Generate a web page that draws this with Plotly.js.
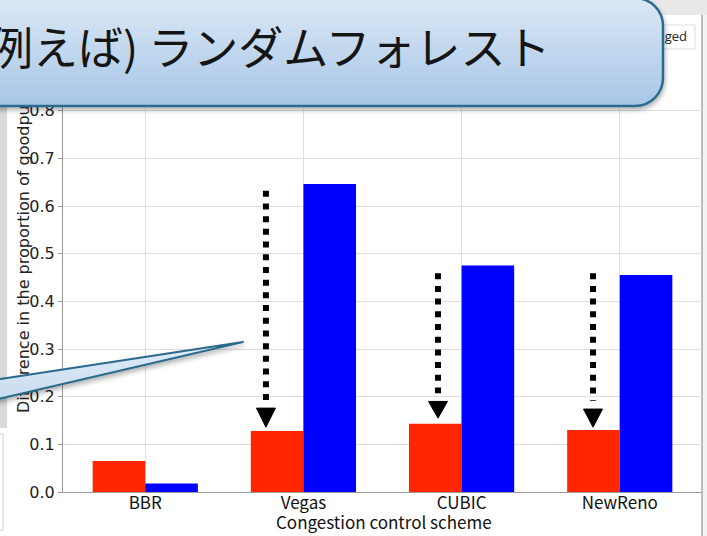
<!DOCTYPE html>
<html>
<head>
<meta charset="utf-8">
<script src="https://cdn.plot.ly/plotly-3.0.1.min.js"></script>
<style>html,body{margin:0;padding:0;background:#fff;}#chart{width:707px;height:536px;}</style>
</head>
<body>
<div id="chart"></div>
<script>
// ---- data ----
const categories = ['BBR', 'Vegas', 'CUBIC', 'NewReno'];
const seriesNames = ['Default', 'Changed'];
const redValues = [0.065, 0.128, 0.143, 0.130];
const blueValues = [0.018, 0.646, 0.475, 0.455];
const yTitle = 'Difference in the proportion of goodput';
const xTitle = 'Congestion control scheme';
const calloutText = '例えば) ランダムフォレスト';
// dotted arrows: category position, top of dots, arrowhead base, arrow tip (data units)
const arrowX = [0.763, 1.851, 2.831];
const arrowTop = [0.632, 0.459, 0.459];
const arrowBase = [0.176, 0.190, 0.174];
const arrowTip = [0.136, 0.155, 0.136];

// ---- layout geometry ----
const W = 707, H = 536, ML = 63, MR = 5, MT = 63, MB = 44;
const PW = W - ML - MR, PH = H - MT - MB;
const px = x => (x - ML) / PW;          // page px -> paper x
const py = y => (H - MB - y) / PH;      // page px -> paper y

// callout box + tail as a decorative svg image (page pixel coordinates)
const svg = `<svg xmlns='http://www.w3.org/2000/svg' width='${W}' height='${H}' viewBox='0 0 ${W} ${H}'>
<defs>
<linearGradient id='g' x1='0' y1='0' x2='0' y2='1'><stop offset='0' stop-color='#dbe8f5'/><stop offset='1' stop-color='#a7c6e7'/></linearGradient>
<linearGradient id='t' x1='0' y1='0' x2='0' y2='1'><stop offset='0' stop-color='#e2edf8'/><stop offset='1' stop-color='#c9dcf0'/></linearGradient>
<filter id='s' x='-20%' y='-20%' width='140%' height='160%'><feGaussianBlur in='SourceAlpha' stdDeviation='2.5'/><feOffset dx='1' dy='3' result='o'/><feComponentTransfer><feFuncA type='linear' slope='0.3'/></feComponentTransfer><feMerge><feMergeNode/><feMergeNode in='SourceGraphic'/></feMerge></filter>
</defs>
<path d='M -6 380 L 243 342 L -6 400 Z' fill='url(#t)' stroke='#2c6a8d' stroke-width='2' stroke-linejoin='round' filter='url(#s)'/>
<rect x='-40' y='-2' width='703' height='108' rx='28' ry='28' fill='url(#g)' stroke='#2c6a8d' stroke-width='2.5' filter='url(#s)'/>
</svg>`;
const svgUri = 'data:image/svg+xml;charset=utf-8,' + encodeURIComponent(svg);

const traces = [
  {type: 'bar', name: seriesNames[0], x: categories, y: redValues,
   marker: {color: '#ff2600', line: {width: 0}}, showlegend: false, hoverinfo: 'x+y'},
  {type: 'bar', name: seriesNames[1], x: categories, y: blueValues,
   marker: {color: '#0000ff', line: {width: 0}}, showlegend: false, hoverinfo: 'x+y'}
];

const shapes = [
  // page chrome
  {type: 'rect', xref: 'paper', yref: 'paper', x0: px(-5), x1: px(W + 5), y0: py(15), y1: py(-5),
   fillcolor: '#e8e8e8', line: {width: 0}, layer: 'below'},
  {type: 'rect', xref: 'paper', yref: 'paper', x0: px(702), x1: px(W + 5), y0: py(H + 5), y1: py(15),
   fillcolor: '#f3f3f3', line: {width: 0}, layer: 'below'},
  {type: 'line', xref: 'paper', yref: 'paper', x0: px(702), x1: px(702), y0: py(H + 5), y1: py(15),
   line: {color: '#a8a8a8', width: 1.5}, layer: 'below'},
  {type: 'rect', xref: 'paper', yref: 'paper', x0: px(-5), x1: px(7), y0: py(428), y1: py(100),
   fillcolor: '#d9d9d9', line: {width: 0}, layer: 'below'},
  {type: 'rect', xref: 'paper', yref: 'paper', x0: px(-10), x1: px(3), y0: py(530), y1: py(434),
   fillcolor: '#ffffff', line: {color: '#d0d0d0', width: 1}, layer: 'below'},
  // legend box (mostly hidden under the callout)
  {type: 'rect', xref: 'paper', yref: 'paper', x0: px(560), x1: px(695), y0: py(49), y1: py(25),
   fillcolor: '#ffffff', line: {color: '#dddddd', width: 1}, layer: 'below',
   label: {text: seriesNames[1], textposition: 'middle right', padding: 5,
           font: {family: 'Open Sans, DejaVu Sans, sans-serif', size: 13, color: '#222'}}},
  // y-axis title (kept under the callout)
  {type: 'rect', xref: 'paper', yref: 'paper', x0: px(21.5), x1: px(22.5), y0: py(413.5), y1: py(412.5),
   line: {width: 0}, fillcolor: 'rgba(0,0,0,0)', layer: 'below',
   label: {text: yTitle, textangle: -90, textposition: 'middle center', xanchor: 'left', yanchor: 'middle',
           padding: 0, font: {family: 'DejaVu Sans, sans-serif', size: 16, color: '#222'}}}
];

arrowX.forEach((x, i) => {
  shapes.push({type: 'line', xref: 'x', yref: 'y', x0: x, x1: x, y0: arrowTop[i], y1: arrowBase[i] + 0.017,
    line: {color: '#000', width: 6, dash: '6px,6.7px'}, layer: 'above'});
  shapes.push({type: 'path', xref: 'x', yref: 'y',
    path: `M ${x - 0.06},${arrowBase[i]} L ${x + 0.06},${arrowBase[i]} L ${x},${arrowTip[i]} Z`,
    fillcolor: '#000', line: {color: '#000', width: 1}, layer: 'above'});
});

const layout = {
  width: W, height: H,
  margin: {l: ML, r: MR, t: MT, b: MB, pad: 0},
  paper_bgcolor: '#ffffff', plot_bgcolor: '#ffffff',
  barmode: 'group', bargap: 0.335, bargroupgap: 0,
  showlegend: false,
  xaxis: {
    type: 'category', range: [-0.52, 3.52], fixedrange: true,
    showgrid: true, gridcolor: '#dedede', gridwidth: 1,
    showline: true, linecolor: '#9a9a9a', linewidth: 1, ticks: '',
    ticklabelstandoff: -4,
    tickfont: {family: 'Noto Sans CJK JP, sans-serif', size: 17, color: '#111'},
    automargin: false
  },
  yaxis: {
    range: [0, 0.9], dtick: 0.1, tickformat: '.1f', fixedrange: true,
    showgrid: true, gridcolor: '#dedede', gridwidth: 1, zeroline: false,
    showline: true, linecolor: '#9a9a9a', linewidth: 1,
    ticks: 'outside', ticklen: 4, tickcolor: '#9a9a9a',
    tickfont: {family: 'DejaVu Sans, sans-serif', size: 16, color: '#222'},
    automargin: false
  },
  images: [{
    source: svgUri, xref: 'paper', yref: 'paper',
    x: px(0), y: py(0), sizex: W / PW, sizey: H / PH,
    xanchor: 'left', yanchor: 'top', sizing: 'stretch', layer: 'above'
  }],
  shapes: shapes,
  annotations: [
    {text: xTitle, xref: 'paper', yref: 'paper', x: px(384), y: py(521),
     xanchor: 'center', yanchor: 'middle', showarrow: false,
     font: {family: 'Noto Sans CJK JP, sans-serif', size: 17, color: '#111'}},
    {text: calloutText, xref: 'paper', yref: 'paper', x: px(553), y: py(45),
     xanchor: 'right', yanchor: 'middle', showarrow: false,
     font: {family: 'Noto Sans CJK JP, sans-serif', size: 45, color: '#151515'}}
  ]
};

Plotly.newPlot('chart', traces, layout, {displayModeBar: false, staticPlot: true});
</script>
</body>
</html>
